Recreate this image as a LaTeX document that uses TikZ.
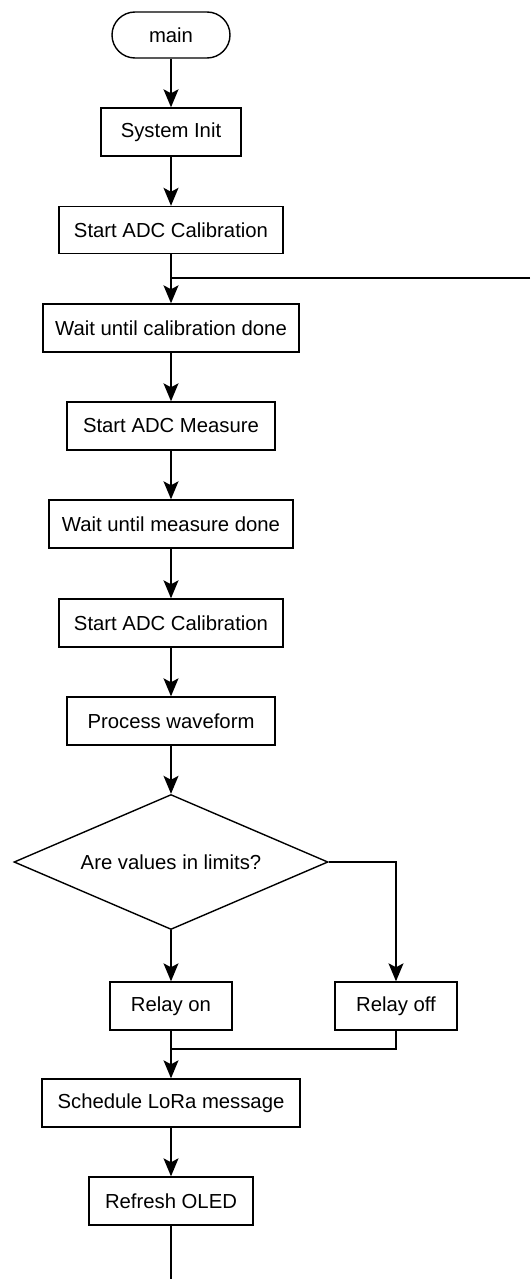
\documentclass[tikz,border=0pt]{standalone}
\usepackage{fontspec}
\setmainfont{Liberation Sans}
\usetikzlibrary{shapes.geometric,arrows.meta}
\begin{document}
\begin{tikzpicture}[x=1pt,y=-1pt,
  every node/.style={font=\fontsize{20.3}{23}\selectfont},
  box/.style={draw,line width=1.4pt,rectangle,inner sep=0pt,minimum height=48pt},
  pill/.style={draw,line width=1.4pt,rectangle,rounded corners=23pt,inner sep=0pt,minimum height=46pt,minimum width=118pt},
  decision/.style={draw,line width=1.4pt,diamond,shape aspect=2.33,inner sep=0pt,minimum width=314pt,minimum height=135pt},
  conn/.style={line width=1.4pt,-{Stealth[length=18pt,width=15pt,inset=4pt]}},
  plain/.style={line width=1.4pt}]
\useasboundingbox (0,0) rectangle (530,1279);
\node[pill] (main) at (171,35) {main};
\node[box,minimum width=140pt] (sys) at (171,132) {System Init};
\node[box,minimum width=224pt,minimum height=47pt] (cal1) at (171,230) {Start ADC Calibration};
\node[box,minimum width=256pt] (wcal) at (171,328) {Wait until calibration done};
\node[box,minimum width=208pt] (meas) at (171,426) {Start ADC Measure};
\node[box,minimum width=244pt] (wmeas) at (171,524) {Wait until measure done};
\node[box,minimum width=224pt] (cal2) at (171,623) {Start ADC Calibration};
\node[box,minimum width=208pt] (proc) at (171,721) {Process waveform};
\node[decision] (dec) at (171,862) {Are values in limits?};
\node[box,minimum width=122pt] (ron) at (171,1006) {Relay on};
\node[box,minimum width=122pt] (roff) at (396,1006) {Relay off};
\node[box,minimum width=258pt] (lora) at (171,1103) {Schedule LoRa message};
\node[box,minimum width=164pt] (oled) at (171,1201) {Refresh OLED};
\coordinate (loopin) at (530,278);
\coordinate (merge) at (396,1049);
\coordinate (endpt) at (171,1279);
\draw[conn] (main) -- (sys);
\draw[conn] (sys) -- (cal1);
\draw[conn] (cal1) -- (wcal);
\draw[plain] (loopin) -- (wcal.north |- loopin);
\draw[conn] (wcal) -- (meas);
\draw[conn] (meas) -- (wmeas);
\draw[conn] (wmeas) -- (cal2);
\draw[conn] (cal2) -- (proc);
\draw[conn] (proc) -- (dec);
\draw[conn] (dec) -- (ron);
\draw[conn] (dec.east) -| (roff.north);
\draw[conn] (ron) -- (lora);
\draw[plain] (roff.south) -- (merge) -- (ron.south |- merge);
\draw[conn] (lora) -- (oled);
\draw[plain] (oled) -- (endpt);
\end{tikzpicture}
\end{document}
